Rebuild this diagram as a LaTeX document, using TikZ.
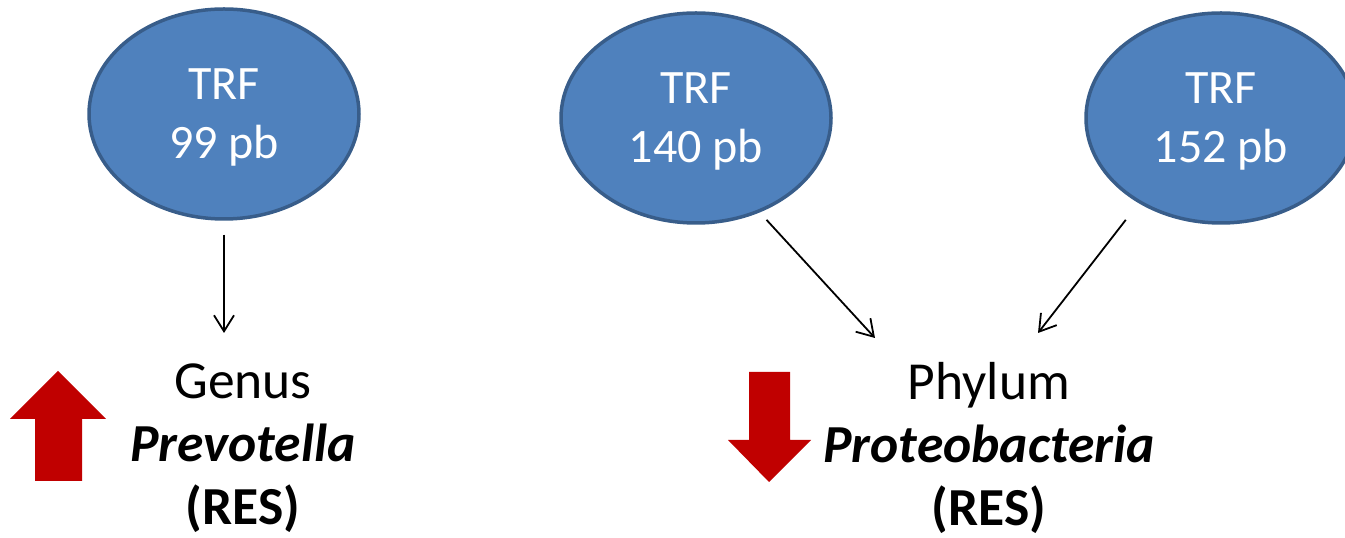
\documentclass[tikz,border=0pt]{standalone}
\usepackage{fontspec}
\setmainfont{Carlito}
\usetikzlibrary{arrows.meta,shapes.geometric}
\definecolor{trfblue}{HTML}{4F81BD}
\definecolor{trfedge}{HTML}{385D8A}
\definecolor{resred}{HTML}{C00000}

\begin{document}
\begin{tikzpicture}[>={Straight Barb[length=16bp,width=20bp]},line join=bevel,
  trf/.style={ellipse,draw=trfedge,fill=trfblue,line width=3.5bp,minimum width=270bp,minimum height=210bp,
    inner sep=0pt,text=white,align=center,font=\fontsize{48bp}{59bp}\selectfont,text depth=0pt},
  taxon/.style={inner sep=0pt,align=center,font=\fontsize{53.5bp}{63bp}\selectfont,text depth=0pt},
  link/.style={black,->,line width=1.8bp},
  trend/.style={fill=resred,draw=none},]
%%
\useasboundingbox (0bp,0bp) rectangle (1345bp,538bp);
\node (trf_99) at (224bp,424bp) [trf] {TRF\\99 pb};
  \node (trf_140) at (696bp,420bp) [trf] {TRF\\140 pb};
  \node (trf_152) at (1221bp,420bp) [trf] {TRF\\152 pb};
  \node (genus) at (243bp,94bp) [taxon] {Genus\\\textbf{\textit{Prevotella}}\\\textbf{(RES)}};
  \node (phylum) at (989bp,94bp) [taxon] {Phylum\\\textbf{\textit{Proteobacteria}}\\\textbf{(RES)}};
  \coordinate (tip_99) at (224bp,205bp);
  \coordinate (tip_140) at (875bp,200bp);
  \coordinate (tip_152) at (1038bp,205bp);
  \draw [link,shorten <=14bp] (trf_99.south) -- (tip_99);
  \draw [link,shorten <=10bp] (trf_140.-56) -- (tip_140);
  \draw [link,shorten <=21bp] (trf_152.-134) -- (tip_152);
%% up / down trend arrows
  \fill [trend] (58bp,167bp) -- (106bp,119bp) -- (82bp,119bp) -- (82bp,57bp)
    -- (35bp,57bp) -- (35bp,119bp) -- (10bp,119bp) -- cycle;
  \fill [trend] (769bp,56bp) -- (811bp,98bp) -- (790bp,98bp) -- (790bp,166bp)
    -- (749bp,166bp) -- (749bp,98bp) -- (728bp,98bp) -- cycle;
%
\end{tikzpicture}
\end{document}
